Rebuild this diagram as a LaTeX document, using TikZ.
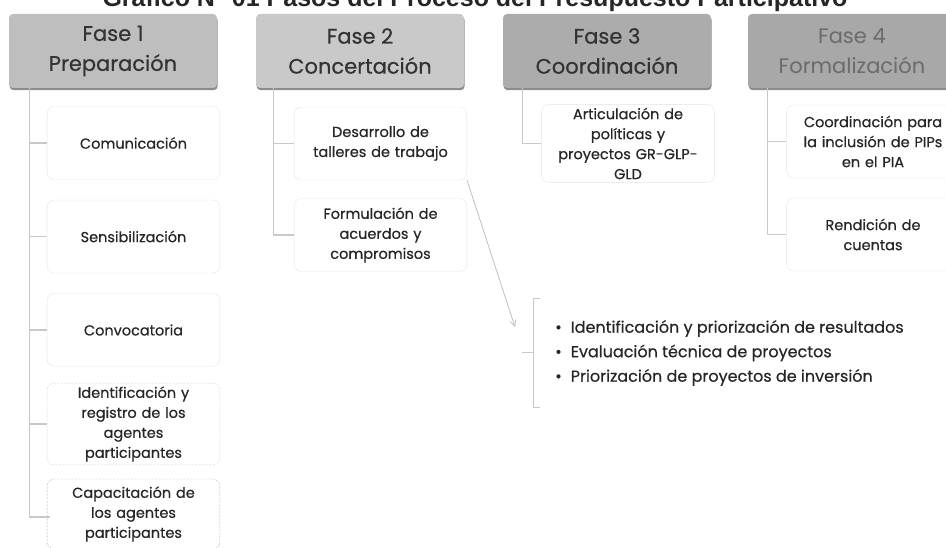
\documentclass[tikz,border=0pt]{standalone}
\usepackage{fontspec}
\setmainfont{Poppins}[FakeBold=0.5]
\newfontfamily\finofont{Poppins}
\newfontfamily\titlefont{Liberation Sans}
\usetikzlibrary{shadows,arrows.meta}

\definecolor{faseuno}{RGB}{190,190,190}
\definecolor{fasedos}{RGB}{201,201,201}
\definecolor{fasetres}{RGB}{172,172,172}
\definecolor{fasecuatro}{RGB}{168,168,168}
\definecolor{linea}{RGB}{200,200,200}

\tikzset{
  fase/.style={rounded corners=4pt, minimum width=208pt, minimum height=74pt,
    align=center, text=black!80, font=\fontsize{21}{30}\selectfont,
    drop shadow={shadow xshift=0.6pt, shadow yshift=-2.2pt, fill=black!50, opacity=.9}},
  paso/.style={draw=black!10, fill=white, rounded corners=7pt, minimum width=168pt,
    minimum height=73pt, text width=166pt, align=center, text=black!85,
    font=\fontsize{14.5}{20}\selectfont},
  rama/.style={draw=linea, line width=1.2pt},
  flecha/.style={draw=black!25, line width=0.8pt, -{Straight Barb[length=6pt,width=6pt]}},
}

\begin{document}
\begin{tikzpicture}[x=1pt,y=-1pt]
  \useasboundingbox (0,0) rectangle (946,548);

  \node[anchor=base, font=\titlefont\bfseries\fontsize{25}{28}\selectfont, text=black!85] (titulo)
    at (475,6.5) {Gráfico N° 01 Pasos del Proceso del Presupuesto Participativo};

  % fases
  \node[fase, fill=faseuno] (f1) at (113,51) {Fase 1\\Preparación};
  \node[fase, fill=fasedos] (f2) at (360,51) {Fase 2\\Concertación};
  \node[fase, fill=fasetres] (f3) at (607,51) {Fase 3\\Coordinación};
  \node[fase, fill=fasecuatro, text=black!58, font=\finofont\fontsize{21}{30}\selectfont] (f4) at (852,51) {Fase 4\\Formalización};

  % pasos fase 1
  \node[paso] (p1a) at (133.5,143) {Comunicación};
  \node[paso] (p1b) at (133.5,236.5) {Sensibilización};
  \node[paso] (p1c) at (133.5,330) {Convocatoria};
  \node[paso, draw=black!30, densely dotted] (p1d) at (133.5,424) {Identificación y\\registro de los\\agentes\\participantes};
  \node[paso, draw=black!55, densely dotted, minimum height=70pt] (p1e) at (133.5,514) {Capacitación de\\los agentes\\participantes};

  % pasos fase 2
  \node[paso] (p2a) at (380.5,143.5) {Desarrollo de\\talleres de trabajo};
  \node[paso] (p2b) at (380.5,235) {Formulación de\\acuerdos y\\compromisos};

  % fase 3 y 4
  \node[paso] (p3a) at (628,143.5) {Articulación de\\políticas y\\proyectos GR-GLP-\\GLD};
  \node[paso] (p4a) at (873,141.5) {Coordinación para\\la inclusión de PIPs\\en el PIA};
  \node[paso] (p4b) at (873,234.5) {Rendición de\\cuentas};

  % ramas
  \foreach \p in {p1a,p1b,p1c,p1d}
    \draw[rama] ([xshift=21pt]f1.south west) |- (\p.west);
  \draw[rama] ([xshift=21pt]f1.south west) |- (50,517);
  \foreach \p in {p2a,p2b}
    \draw[rama] ([xshift=18pt]f2.south west) |- (\p.west);
  \draw[rama] ([xshift=20pt]f3.south west) |- (p3a.west);
  \foreach \p in {p4a,p4b}
    \draw[rama] ([xshift=20pt]f4.south west) |- (\p.west);

  % lista de la fase 2
  \node[anchor=west, minimum height=108pt, inner xsep=22pt, align=left, text=black!85,
    font=\fontsize{16}{24.5}\selectfont] (lista) at (533,353)
    {\textbullet\hspace{9pt}Identificación y priorización de resultados\\
     \textbullet\hspace{9pt}Evaluación técnica de proyectos\\
     \textbullet\hspace{9pt}Priorización de proyectos de inversión};
  \draw[rama, line width=1pt] ([xshift=7pt]lista.north west) -- (lista.north west)
    -- (lista.south west) -- ++(7,0);
  \draw[rama, line width=1pt] (lista.west) -- ++(-11,0);
  \coordinate (fin) at (515,327);
  \draw[flecha] (p2a.south east) -- (fin);
\end{tikzpicture}
\end{document}
